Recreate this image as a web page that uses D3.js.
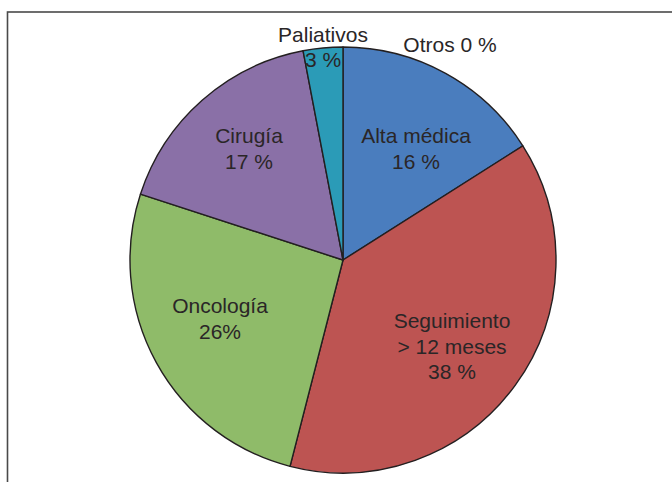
<!DOCTYPE html>
<html>
<head>
<meta charset="utf-8">
<script src="https://cdn.jsdelivr.net/npm/d3@7"></script>
<style>
  html, body { margin: 0; padding: 0; background: #fff; }
  svg { display: block; }
  text { font-family: "Liberation Sans", Arial, Helvetica, sans-serif; fill: #2a2627; }
</style>
</head>
<body>
<svg id="chart" width="672" height="482"></svg>
<script>
// Data
const categories = ["Alta médica", "Seguimiento > 12 meses", "Oncología", "Cirugía", "Paliativos", "Otros"];
const values = [16, 38, 26, 17, 3, 0];
const labelLines = [
  ["Alta médica", "16 %"],
  ["Seguimiento", "> 12 meses", "38 %"],
  ["Oncología", "26%"],
  ["Cirugía", "17 %"],
  ["Paliativos", "3 %"],
  ["Otros 0 %"]
];
const colors = ["#4a7dbe", "#bd5452", "#8fbb69", "#8a70a7", "#2b9bb7", "#f79646"];

const svg = d3.select("#chart");
const W = 672, H = 482;

// frame
svg.append("rect")
  .attr("x", 7.5).attr("y", 12)
  .attr("width", 700).attr("height", 500)
  .attr("fill", "none").attr("stroke", "#4a4a4a").attr("stroke-width", 1.6);

const cx = 343, cy = 260, R = 213;
const g = svg.append("g").attr("transform", `translate(${cx},${cy})`);

const pie = d3.pie().sort(null).value(d => d)(values);
const arc = d3.arc().innerRadius(0).outerRadius(R);

g.selectAll("path.slice")
  .data(pie.filter(d => d.value > 0))
  .join("path")
  .attr("class", "slice")
  .attr("d", arc)
  .attr("fill", d => colors[d.index])
  .attr("stroke", "#231f20")
  .attr("stroke-width", 1.4)
  .attr("stroke-linejoin", "round");

// Label placement (radius fraction and angle offsets in label space)
const labelSpec = [
  { r: 0.50, dx: 0, dy: 0 },
  { r: 0.58, dx: 0, dy: 0 },
  { r: 0.58, dx: 0, dy: 0 },
  { r: 0.55, dx: 0, dy: 0 },
  { r: 1.0, dx: 0, dy: 0 },
  { r: 1.0, dx: 0, dy: 0 }
];
const lineH = 25.5;
const fs = 21;

// compute centroid positions via arc scale
const labelPos = pie.map((d, i) => {
  const a = d3.arc().innerRadius(0).outerRadius(R * labelSpec[i].r * 2);
  return a.centroid(d);
});

// explicit anchor points relative to chart (first line baseline) derived from centroid
const anchors = [
  [416 - cx, 143 - cy],
  [452 - cx, 328 - cy],
  [220 - cx, 313 - cy],
  [249 - cx, 143 - cy],
  [323 - cx, 42 - cy],
  [450 - cx, 52 - cy]
];
const lineGaps = [26, 25.5, 26, 26, 25, 0];

pie.forEach((d, i) => {
  const t = g.append("text")
    .attr("text-anchor", "middle")
    .attr("font-size", fs)
    .attr("x", anchors[i][0])
    .attr("y", anchors[i][1]);
  labelLines[i].forEach((ln, j) => {
    t.append("tspan")
      .attr("x", anchors[i][0])
      .attr("y", anchors[i][1] + j * lineGaps[i])
      .text(ln);
  });
});
</script>
</body>
</html>
